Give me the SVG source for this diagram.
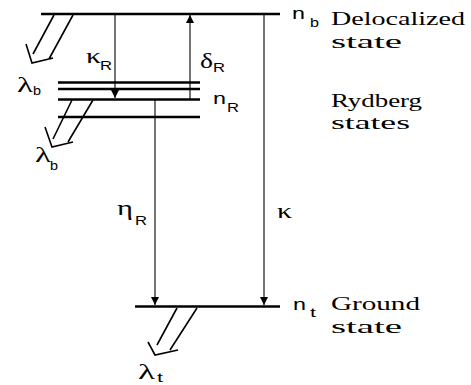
<svg xmlns="http://www.w3.org/2000/svg" width="471" height="385" viewBox="0 0 471 385">
<style>
.lvl{stroke:#000;stroke-width:2.5;fill:none}
.arr{stroke:#000;stroke-width:1.1;fill:none}
.hol{stroke:#000;stroke-width:1.6;fill:none;stroke-linejoin:miter}
text{font-family:"Liberation Serif","Times New Roman",serif;fill:#000}
.lab{font-size:19px}
.gr{font-size:20px}
.sub{font-family:"Liberation Sans",Arial,sans-serif;font-size:13px}
.n{font-family:"Liberation Sans",Arial,sans-serif;font-size:17px}
</style>
<defs>
<marker id="ah" viewBox="0 0 10 10" refX="10" refY="5" markerWidth="8" markerHeight="8" markerUnits="userSpaceOnUse" orient="auto">
<path d="M0,0 L10,5 L0,10 z" fill="#000"/>
</marker>
</defs>
<g id="level-nb">
<line class="lvl" x1="41" y1="14" x2="280" y2="14"/>
<text class="n" x="292" y="19" textLength="13" lengthAdjust="spacingAndGlyphs">n</text>
<text class="sub" x="310" y="27" textLength="9" lengthAdjust="spacingAndGlyphs">b</text>
<text class="lab" x="331" y="25" textLength="134" lengthAdjust="spacingAndGlyphs">Delocalized</text>
<text class="lab" x="331" y="48" textLength="71" lengthAdjust="spacingAndGlyphs">state</text>
</g>
<g id="level-rydberg">
<line class="lvl" x1="58" y1="82.5" x2="200" y2="82.5"/>
<line class="lvl" x1="58" y1="89" x2="200" y2="89"/>
<line class="lvl" x1="58" y1="99.5" x2="200" y2="99.5"/>
<line class="lvl" x1="58" y1="117" x2="200" y2="117"/>
<text class="n" x="213" y="104" textLength="13" lengthAdjust="spacingAndGlyphs">n</text>
<text class="sub" x="227" y="112" textLength="12" lengthAdjust="spacingAndGlyphs">R</text>
<text class="lab" x="331" y="107" textLength="91" lengthAdjust="spacingAndGlyphs">Rydberg</text>
<text class="lab" x="331" y="129" textLength="79" lengthAdjust="spacingAndGlyphs">states</text>
</g>
<g id="level-nt">
<line class="lvl" x1="135" y1="306.5" x2="280" y2="306.5"/>
<text class="n" x="293" y="310" textLength="13" lengthAdjust="spacingAndGlyphs">n</text>
<text class="sub" x="310" y="317" textLength="6" lengthAdjust="spacingAndGlyphs">t</text>
<text class="lab" x="331" y="310" textLength="89" lengthAdjust="spacingAndGlyphs">Ground</text>
<text class="lab" x="331" y="333" textLength="71" lengthAdjust="spacingAndGlyphs">state</text>
</g>
<g id="emission-b1">
<path class="hol" d="M54,15 L33,54 M73,15 L49,59 M26,44 L32,63 L53,58"/>
<text class="gr" x="17" y="92" textLength="16" lengthAdjust="spacingAndGlyphs">λ</text>
<text class="sub" x="33" y="95" textLength="8" lengthAdjust="spacingAndGlyphs">b</text>
</g>
<g id="emission-b2">
<path class="hol" d="M72,100 L53,139 M93,100 L68,142 M45,127 L52,147 L73,142"/>
<text class="gr" x="35" y="162" textLength="16" lengthAdjust="spacingAndGlyphs">λ</text>
<text class="sub" x="50" y="170" textLength="8" lengthAdjust="spacingAndGlyphs">b</text>
</g>
<g id="emission-t">
<path class="hol" d="M177,308 L157,345 M197,308 L170,350 M148,342 L155,355 L178,350"/>
<text class="gr" x="138" y="379" textLength="17" lengthAdjust="spacingAndGlyphs">λ</text>
<text class="sub" x="157" y="382" textLength="6" lengthAdjust="spacingAndGlyphs">t</text>
</g>
<g id="connectors">
<line class="arr" x1="115" y1="15" x2="115" y2="98" marker-end="url(#ah)"/>
<line class="arr" x1="190" y1="99" x2="190" y2="15" marker-end="url(#ah)"/>
<line class="arr" x1="155" y1="100" x2="155" y2="305" marker-end="url(#ah)"/>
<line class="arr" x1="264" y1="15" x2="264" y2="305" marker-end="url(#ah)"/>
<text class="gr" x="86" y="63" textLength="15" lengthAdjust="spacingAndGlyphs">κ</text>
<text class="sub" x="100" y="70" textLength="12" lengthAdjust="spacingAndGlyphs">R</text>
<text class="gr" x="200" y="68" textLength="13" lengthAdjust="spacingAndGlyphs">δ</text>
<text class="sub" x="213" y="72" textLength="12" lengthAdjust="spacingAndGlyphs">R</text>
<text class="gr" x="117" y="215" textLength="16" lengthAdjust="spacingAndGlyphs">η</text>
<text class="sub" x="135" y="225" textLength="12" lengthAdjust="spacingAndGlyphs">R</text>
<text class="gr" x="277" y="218" textLength="15" lengthAdjust="spacingAndGlyphs">κ</text>
</g>
</svg>
